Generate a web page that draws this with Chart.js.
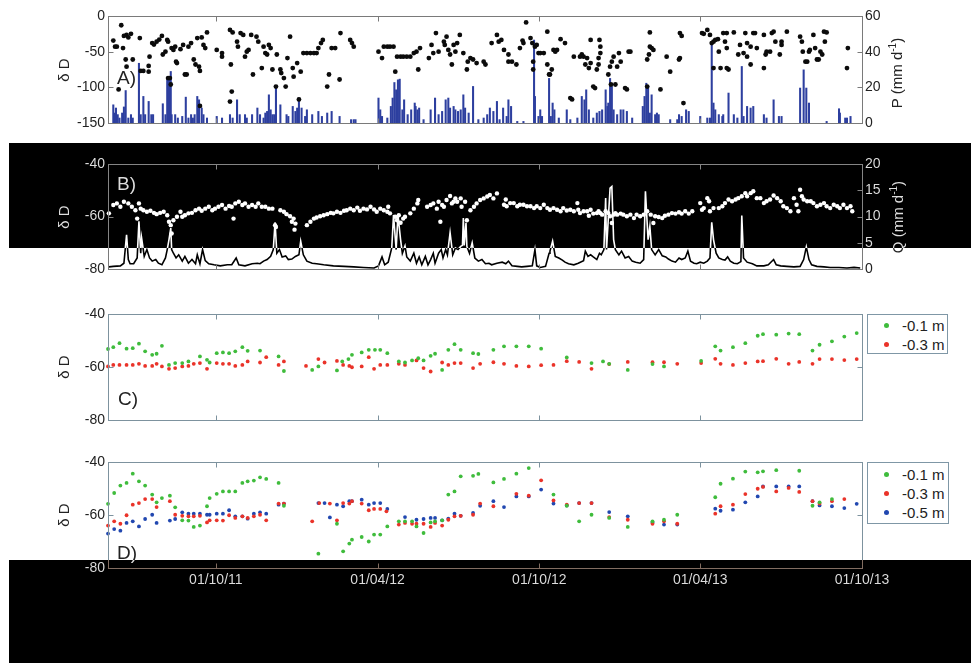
<!DOCTYPE html>
<html><head><meta charset="utf-8">
<script src="https://cdn.jsdelivr.net/npm/chart.js@4.4.1/dist/chart.umd.min.js"></script>
<style>
html,body{margin:0;padding:0;background:#fff;}
#wrap{position:relative;width:971px;height:663px;background:#fff;isolation:isolate;overflow:hidden;font-family:"Liberation Sans",Arial,Helvetica,sans-serif;color:#222;}
canvas{position:absolute;left:0;}
.yt{position:absolute;white-space:nowrap;transform:translate(-50%,-50%) rotate(-90deg);font-size:15px;line-height:15px;}
.yt sup{font-size:10px;line-height:0;}
.pl{position:absolute;font-size:19px;line-height:19px;}
.leg{position:absolute;border:1px solid #7f97a6;background:#fff;}
.leg .dot{position:absolute;width:5px;height:5px;border-radius:50%;}
.leg .lt{position:absolute;font-size:15px;line-height:19px;white-space:nowrap;}
.inv{position:absolute;background:#fff;mix-blend-mode:difference;pointer-events:none;}
</style></head>
<body>
<div id="wrap">
<canvas id="cA" width="971" height="140" style="top:0px"></canvas>
<canvas id="cB" width="971" height="140" style="top:145px"></canvas>
<canvas id="cC" width="971" height="140" style="top:295px"></canvas>
<canvas id="cD" width="971" height="218" style="top:445px"></canvas>

<div class="yt" style="left:63px;top:70px">δ D</div>
<div class="yt" style="left:896px;top:73px">P (mm d<sup>-1</sup>)</div>
<div class="yt" style="left:63px;top:217px">δ D</div>
<div class="yt" style="left:897px;top:217px">Q (mm d<sup>-1</sup>)</div>
<div class="yt" style="left:63px;top:367px">δ D</div>
<div class="yt" style="left:63px;top:515px">δ D</div>

<div class="pl" style="left:117px;top:68px">A)</div>
<div class="pl" style="left:117px;top:174px">B)</div>
<div class="pl" style="left:118px;top:389px">C)</div>
<div class="pl" style="left:117px;top:543px">D)</div>

<div class="leg" style="left:867px;top:314px;width:79px;height:38px">
  <span class="dot" style="left:16px;top:8px;background:#3fbc3c"></span><span class="lt" style="left:34px;top:1px">-0.1 m</span>
  <span class="dot" style="left:16px;top:27px;background:#ea3329"></span><span class="lt" style="left:34px;top:20px">-0.3 m</span>
</div>
<div class="leg" style="left:867px;top:462px;width:80px;height:60px">
  <span class="dot" style="left:16px;top:9px;background:#3fbc3c"></span><span class="lt" style="left:34px;top:2px">-0.1 m</span>
  <span class="dot" style="left:16px;top:28px;background:#ea3329"></span><span class="lt" style="left:34px;top:21px">-0.3 m</span>
  <span class="dot" style="left:16px;top:47px;background:#2147b0"></span><span class="lt" style="left:34px;top:40px">-0.5 m</span>
</div>

<div class="inv" style="left:9px;top:143px;width:962px;height:105px"></div>
<div class="inv" style="left:9px;top:560px;width:962px;height:103px"></div>
</div>
<script>
// x = days since 01/06/11
const tickDays = [122, 305, 488, 670, 853];
const tickLabels = ['01/10/11', '01/04/12', '01/10/12', '01/04/13', '01/10/13'];
const isoTicks = [-80, -60, -40];
const aIsoTicks = [-150, -100, -50, 0];
const pTicks = [0, 20, 40, 60];
const qTicks = [0, 5, 10, 15, 20];

// Panel A: rain isotopes [day, dD]
const rainIso = [[6,-34.5],[8,-43],[10,-43],[15,-13],[12,-103],[17,-45],[18,-28],[21,-26.5],[23,-30],[26,-25],[20,-61],[21,-71],[28,-61],[36,-31],[37,-77],[40,-77],[46,-70],[47,-57],[46,-78],[50,-38],[52,-40],[55,-36],[58,-33],[61,-28],[62,-54],[65,-50],[67,-33.5],[68,-36],[68,-87],[70,-87],[71,-96],[72,-45],[74,-47.5],[76,-43],[77,-64],[78,-66],[82,-46.5],[85,-40.5],[87,-82],[89,-82],[91,-43],[94,-38],[97,-61],[99,-68],[101,-31],[103,-71],[104,-77],[106,-30],[108,-40.5],[110,-45],[112,-23],[104,-126],[123,-47.5],[129,-52],[129,-57],[138,-19.5],[141,-23],[139,-68],[140,-106],[138,-120],[146,-36],[147,-43],[150,-24],[153,-26.5],[155,-57],[157,-50],[159,-47.5],[162,-26.5],[164,-82],[168,-29],[170,-36],[174,-73],[176,-43],[178,-52],[180,-54],[182,-40.5],[184,-45],[186,-75],[190,-99],[191,-54],[195,-75],[196,-80],[199,-87],[201,-99],[203,-59],[206,-29],[209,-73],[210,-85],[214,-66],[216,-117],[218,-78],[221,-52],[225,-52],[229,-52],[233,-52],[236,-52],[238,-45],[241,-38],[243,-33.5],[250,-82],[248,-99],[253,-45],[257,-45],[262,-89],[263,-24],[274,-33.5],[276,-38],[278,-43],
[306,-50],[310,-59],[312,-43],[316,-43],[319,-43],[323,-43],[325,-78],[327,-57],[331,-57],[334,-57],[338,-57],[342,-57],[346,-52],[349,-50],[351,-75],[353,-45],[363,-59],[366,-40.5],[368,-52],[371,-24],[374,-50],[380,-36],[381,-40.5],[383,-29],[385,-47.5],[387,-54],[389,-68],[391,-40.5],[393,-50],[395,-38],[398,-26.5],[402,-52],[406,-75],[407,-64],[410,-59],[413,-61],[417,-66],
[425,-64],[427,-68],[434,-38],[440,-26.5],[442,-36],[445,-33.5],[448,-47.5],[453,-54],[453,-64],[457,-64],[462,-68],[466,-45],[469,-34.5],[470,-38],[473,-9],[478,-31],[480,-38],[481,-64],[481,-75],[483,-43],[485,-40.5],[487,-52],[489,-52],[493,-52],[497,-22],[497,-68],[499,-82],[500,-82],[502,-75],[504,-47.5],[506,-50],[508,-47.5],[512,-32.5],[517,-38],[523,-115],[525,-117],[527,-57],[534,-57],[536,-54],[538,-57],[540,-68],[542,-59],[544,-73],[546,-66],[549,-99],[551,-101],[546,-33.5],[556,-33.5],[555,-59],[555,-68],[553,-75],[557,-43],[557,-52],[566,-82],[568,-71],[569,-96],[570,-64],[572,-57],[574,-96],[576,-71],[578,-52],[580,-64],[585,-101],[587,-103],[589,-50],[591,-50],[610,-61],[612,-54],[613,-43],[613,-23],[615,-45],[617,-47.5],[610,-99],[625,-103],[632,-57],[636,-78],[646,-61],[647,-59],[647,-24],[649,-28],[651,-122],[672,-24],[674,-25],[678,-19.5],[681,-26.5],[683,-38],[685,-36],[687,-33.5],[690,-32.5],[685,-73],[693,-73],[691,-50],[696,-24],[700,-24],[700,-73],[702,-75],[698,-36],[700,-45],[708,-23],[713,-54],[715,-40.5],[719,-52],[721,-24],[723,-38],[727,-68],[727,-43],[730,-24],[732,-24],[723,-57],[734,-45],[742,-73],[742,-26.5],[744,-54],[745,-50],[749,-50],[751,-24],[753,-22],[755,-36],[760,-54],[762,-40.5],[762,-36],[768,-22],[783,-29],[785,-36],[786,-50],[789,-64],[791,-64],[793,-50],[794,-47.5],[798,-26.5],[800,-45],[802,-61],[804,-61],[806,-50],[808,-54],[810,-22],[811,-36],[813,-23],[836,-73],[837,-45]];

// Panel A: precipitation [day, mm/d]
const precip = [[6,10.2],[7,5.6],[9,8.4],[11,4.7],[13,2.8],[16,5.6],[18,9],[20,18.2],[23,2.8],[26,4.7],[28,2.8],[35,33.5],[37,4.7],[40,14.9],[42,4.7],[46,12.1],[49,4.7],[51,4.7],[62,10.8],[65,4.7],[67,25],[69,25],[71,28.9],[72,4.7],[76,4.7],[79,2.8],[84,3.7],[88,14.5],[91,2.8],[94,4.7],[96,2.8],[98,4.7],[101,14.9],[103,13],[106,8.4],[108,4.7],[112,2.8],[123,3.7],[129,2.8],[138,4.7],[141,2.8],[146,13],[149,4.7],[155,4.7],[157,2.8],[163,4.7],[169,8.4],[172,4.7],[176,2.8],[178,5.6],[180,6.5],[182,15.8],[184,7.4],[186,4.7],[188,4.7],[190,20],[195,10.2],[202,4.7],[204,3.7],[209,9.3],[212,6.5],[214,8.4],[216,14],[219,8.4],[223,3.7],[225,7.4],[231,4.7],[238,6.5],[242,3.7],[248,5.6],[253,6.5],[262,3.7],[275,1.9],[278,1.9],[280,1.9],
[306,14],[308,7.4],[310,3.7],[316,2.8],[320,9.3],[322,14],[324,22.7],[326,18.6],[328,24.2],[330,24.6],[333,7.4],[335,13],[339,4.7],[343,7.4],[347,11.2],[348,9.3],[350,7.4],[352,8.4],[357,1.9],[365,7.4],[370,14],[374,4.7],[378,6.5],[382,13],[385,14],[387,8.4],[391,9.3],[393,7.4],[396,6.5],[399,7.4],[402,15.8],[404,8.4],[408,5.6],[413,20.5],[419,1.9],[425,2.8],[429,4.7],[432,8.4],[436,6.5],
[440,12.1],[443,1.9],[447,8.4],[451,3.7],[453,13],[456,9.3],[463,0.9],[470,0.9],[482,46.5],[483,14.9],[487,3.7],[489,7.4],[491,3.7],[499,25],[501,3.7],[503,11.2],[505,7.4],[510,2.8],[519,7.4],[523,1.9],[531,2.8],[536,14.9],[539,13],[541,18.6],[544,7.4],[549,2.8],[553,5.6],[556,6.5],[559,7.4],[563,18.6],[565,9.3],[566,11.2],[568,25],[570,20.5],[572,7.4],[576,4.7],[580,7.4],[583,7.4],[587,6.5],[593,2.8],[605,9.3],[607,14.9],[609,22.3],[611,20.5],[613,5.6],[615,15.8],[619,4.7],[621,5.6],[623,4.7],[636,1.9],[644,1.9],[646,4.7],[649,3.7],[654,7.4],[657,6.5],[670,3.7],[678,2.8],[681,2.8],[683,45],[685,11.2],[687,7.4],[691,4.7],[695,3.7],[696,4.7],[702,16.8],[708,4.7],[712,2.8],[717,31.7],[719,3.7],[723,9.3],[727,8.4],[730,9.3],[742,4.7],[745,2.8],[753,13],[759,3.7],[762,3.7],[783,19.6],[787,29.8],[790,19.6],[793,11.2],[813,0.9],[827,8],[828,5.6],[834,2.8],[836,2.8],[840,3.7]];

// Panel B: stream isotopes [day, dD]
const streamIso = [[1,-58.8],[6,-55.6],[10,-55],[14,-56.3],[18,-54.4],[23,-55],[27,-56.3],[31,-57.6],[33,-60.8],[35,-55],[37,-57],[40,-57.6],[44,-58.2],[48,-57.8],[52,-58.6],[55,-59.1],[59,-58.6],[63,-58.2],[67,-59.5],[69,-62],[71,-63.3],[72,-66.5],[74,-61.4],[78,-60.1],[82,-58.2],[84,-60.1],[87,-59.5],[91,-58.8],[95,-58.6],[99,-57.6],[103,-57],[106,-57.8],[110,-57],[114,-56.3],[118,-57.6],[121,-57],[125,-56.3],[129,-55.6],[133,-57],[137,-56],[140,-56.3],[142,-60.8],[144,-55],[148,-54.4],[152,-55.6],[155,-55],[159,-56.3],[163,-55.6],[167,-56.3],[170,-55],[174,-56.3],[178,-56.3],[182,-57],[186,-57],[189,-63.3],[190,-64],[195,-57.6],[199,-58.2],[202,-59.1],[206,-59.9],[208,-62],[210,-60.8],[212,-62.7],[211,-65],
[225,-63.3],[229,-62],[233,-60.8],[236,-60.4],[240,-59.9],[244,-59.5],[248,-59.1],[252,-58.6],[255,-58.8],[259,-58.2],[263,-58.6],[267,-57.8],[270,-57.6],[274,-57],[278,-57.6],[282,-56.6],[285,-57.8],[289,-57],[293,-57.3],[297,-56.3],[301,-57.3],[304,-58.2],[308,-57],[312,-57.6],[316,-58.2],[317,-56.3],[319,-58.8],[325,-60.1],[327,-61.4],[329,-59.5],[331,-62.4],[334,-60.8],[336,-60.1],[342,-58.8],[346,-57],[350,-55],[351,-53.7],[361,-56.3],[365,-55.6],[368,-55],[372,-57],[374,-54.4],[376,-62],[378,-55.6],[380,-56.3],[383,-53.7],[387,-52.2],[389,-55],[391,-54.4],[393,-53.1],[395,-54.4],[399,-53.1],[400,-56.3],[404,-54.4],[406,-61.4],[410,-57.6],[414,-56.3],[417,-55],[421,-53.7],[425,-53.1],[429,-52.4],[432,-51.8],[436,-53.1],[440,-51.2],
[448,-55.5],[450,-53.5],[451,-56.1],[455,-54.9],[459,-54.9],[463,-56.1],[466,-55.5],[470,-55.5],[474,-56.1],[478,-56.1],[482,-56.8],[485,-56.1],[489,-56.8],[493,-55.5],[497,-56.8],[500,-57.4],[504,-56.8],[508,-57.4],[512,-58],[515,-56.8],[519,-57.7],[523,-57.4],[527,-58],[531,-54.9],[532,-57.4],[534,-58.7],[538,-58],[542,-58],[544,-59.7],[546,-57.4],[549,-58.9],[553,-58.7],[555,-58],[557,-58.7],[559,-59.3],[563,-58],[566,-58.7],[568,-59.9],[570,-62.5],[572,-59.3],[574,-58.7],[576,-59.3],[580,-58.9],[583,-59.3],[587,-59.9],[591,-59.3],[595,-60.6],[598,-59.3],[602,-59.9],[606,-59.3],[610,-58],[614,-59.3],[617,-62.5],[619,-59.9],[623,-60.2],[627,-60.6],[630,-59.7],[634,-59.3],[638,-58.7],[642,-58.9],[646,-58.4],[649,-58.9],[653,-58],[657,-58.9],[661,-58],
[670,-54.9],[672,-57.4],[674,-56.8],[678,-53],[680,-54.2],[681,-58],[685,-56.8],[691,-56.8],[695,-56.1],[698,-54.9],[702,-53.5],[706,-54.2],[710,-53.5],[713,-53],[717,-52.3],[721,-51.1],[723,-52.3],[727,-51.1],[730,-50.4],[734,-53],[738,-53],[742,-54.9],[745,-54.2],[749,-53.5],[753,-52],[757,-53],[761,-54.2],[764,-56.1],[768,-56.8],[772,-58],[776,-53],[779,-55.5],[781,-58],[783,-49.8],[785,-52.3],[787,-53.5],[791,-54.2],[795,-54.2],[798,-54.9],[802,-56.1],[806,-55.5],[810,-54.9],[813,-56.1],[817,-56.8],[821,-55.5],[825,-56.1],[828,-56.8],[832,-55.5],[836,-56.8],[840,-56.1],[842,-58]];

// Panel B: discharge [day, mm/d]
const discharge = [[1,0.4],[6,0.5],[14,0.6],[18,1.1],[21,6.5],[23,1.8],[25,1.0],[29,1.0],[33,2.1],[35,9.1],[37,3.0],[38,5.9],[41,2.4],[44,3.7],[47,2.1],[50,1.5],[54,1.8],[57,1.1],[61,0.8],[65,2.1],[67,3.7],[69,5.6],[71,7.8],[72,3.7],[74,3.0],[77,2.1],[80,2.7],[84,1.5],[87,2.4],[91,1.1],[95,1.8],[99,1.0],[101,2.7],[104,1.0],[107,3.7],[110,1.6],[114,1.0],[120,0.8],[127,0.6],[135,0.8],[140,0.8],[145,2.1],[148,0.8],[155,0.6],[163,1.0],[169,1.1],[172,1.0],[176,1.5],[180,1.8],[184,2.4],[187,3.7],[189,8.9],[191,3.0],[194,3.7],[197,2.3],[201,2.5],[204,1.8],[208,1.9],[212,2.4],[216,2.7],[218,5.3],[221,2.7],[225,1.5],[231,1.1],[236,1.0],[244,0.8],[255,0.6],[267,0.5],[278,0.4],[289,0.3],[301,0.2],[306,0.6],[310,2.3],[313,0.8],[317,1.3],[321,4.0],[323,10.3],[326,3.7],[328,10.3],[331,5.6],[333,3.0],[336,4.4],[338,2.3],[342,1.5],[346,3.0],[349,1.1],[352,2.3],[355,0.8],[359,2.4],[362,0.8],[365,1.8],[368,3.0],[370,1.1],[374,3.0],[377,3.7],[379,2.1],[382,3.7],[384,2.7],[387,6.9],[390,2.7],[393,4.0],[396,3.7],[399,4.3],[401,4.5],[402,9.7],[403,4.5],[405,8.8],[406,4.3],[409,3.0],[412,5.0],[415,2.1],[419,1.5],[423,1.8],[427,1.0],[431,1.1],[434,0.8],[440,1.1],[446,1.3],[450,1.0],[453,1.5],[457,0.6],[463,0.5],[468,0.4],[474,0.5],[480,0.6],[483,3.7],[485,0.6],[489,0.3],[495,0.5],[499,3.0],[500,3.4],[503,5.3],[506,2.4],[510,2.1],[514,1.7],[517,1.3],[521,1.0],[527,0.8],[532,1.1],[538,1.6],[540,3.4],[543,2.4],[546,2.7],[549,2.3],[553,1.8],[556,3.0],[558,2.7],[561,3.7],[563,13.5],[564,3.7],[568,15.4],[570,15.7],[572,5.6],[574,3.7],[578,2.7],[581,3.4],[585,2.1],[589,2.4],[593,1.5],[597,1.3],[602,1.1],[606,1.8],[608,14.8],[611,5.6],[613,8.1],[615,3.7],[619,2.7],[623,3.7],[627,2.5],[631,2.3],[634,1.9],[638,1.5],[642,1.3],[646,2.1],[649,1.8],[653,2.1],[656,3.4],[659,1.5],[663,1.1],[666,1.0],[670,1.3],[674,1.1],[678,1.5],[681,2.1],[683,8.9],[685,5.6],[688,3.0],[691,2.1],[695,1.8],[698,1.7],[701,2.3],[704,1.5],[708,1.1],[712,1.0],[716,1.4],[717,10.2],[719,2.1],[723,1.3],[729,1.0],[734,0.6],[742,0.6],[747,0.8],[753,1.8],[756,0.8],[761,0.6],[768,0.5],[776,0.4],[783,0.5],[787,1.8],[790,4.2],[793,1.8],[796,0.8],[802,0.5],[810,0.4],[817,0.3],[827,0.3],[836,0.2],[844,0.3],[851,0.2]];

// Panel C: soil water, plot 1 [day, dD]
const c01 = [[0,-53.2],[6,-52.5],[13,-51],[21,-53.1],[28,-52.9],[35,-51.2],[42,-54.1],[50,-55.4],[55,-55],[61,-52],[69,-59.2],[76,-58.5],[84,-58.5],[91,-57.9],[104,-56],[112,-57.3],[115,-58.3],[123,-54.8],[130,-54.5],[137,-54.8],[144,-54.1],[152,-52.5],[158,-53.9],[172,-53.8],[193,-56],[199,-61.5],[231,-61.1],[238,-59.8],[259,-61.3],[265,-57.9],[272,-57],[276,-55.4],[287,-54.5],[295,-53.5],[302,-53.5],[308,-53.5],[316,-54.8],[329,-57.9],[336,-58.3],[344,-57.5],[351,-56.7],[357,-57.5],[365,-55.8],[370,-55],[378,-61.1],[385,-53.5],[392,-51.4],[399,-53.5],[413,-54.8],[419,-55.1],[436,-53.5],[448,-52.2],[462,-52.2],[476,-52.2],[490,-53.1],[519,-56.4],[547,-58.5],[560,-57.9],[567,-58.8],[588,-61.1],[616,-58.9],[629,-59.8],[671,-57.7],[687,-52.2],[693,-53.8],[707,-52.5],[721,-51],[735,-48.2],[741,-47.6],[756,-47.8],[770,-47.4],[782,-47.6],[797,-53.8],[805,-51.6],[819,-50.3],[833,-48.5],[847,-47.2]];
const c03 = [[0,-59.8],[6,-59.2],[13,-59.2],[21,-59.2],[28,-59.2],[35,-58.8],[42,-59.6],[50,-59.6],[55,-58.8],[61,-59.8],[69,-60.7],[76,-60.4],[84,-59.8],[91,-59.6],[97,-58.8],[104,-58.5],[112,-60.7],[123,-58.5],[130,-58.8],[137,-58.8],[144,-59.6],[152,-59.2],[158,-57.9],[172,-58.3],[179,-56.3],[193,-59.2],[199,-57.9],[224,-59.6],[238,-57],[245,-58.3],[259,-57.7],[266,-59.2],[273,-59.6],[276,-60.1],[287,-59.8],[295,-56.3],[301,-60.7],[308,-59.2],[316,-59.2],[329,-58.8],[336,-59.2],[349,-57.5],[357,-60.4],[365,-61.7],[378,-58.3],[385,-59.2],[392,-58.5],[399,-58.5],[413,-60.4],[421,-58.8],[436,-58.2],[448,-58.8],[462,-59.6],[476,-59.8],[490,-59.3],[504,-59.2],[519,-57.8],[533,-58.1],[547,-60.7],[567,-58.9],[588,-58.1],[616,-58.2],[629,-58.2],[644,-58.8],[671,-58.5],[687,-56.9],[693,-58.8],[707,-59.2],[721,-58.5],[735,-57.9],[741,-57.8],[756,-56.9],[770,-58.8],[782,-58.1],[797,-58.8],[805,-57],[819,-57],[833,-57.4],[847,-57]];

// Panel D: soil water, plot 2 [day, dD]
const d01 = [[0,-55.8],[7,-51.7],[14,-48.9],[21,-47.9],[28,-44.4],[35,-47.3],[42,-48.9],[50,-52.3],[55,-55.2],[61,-53.6],[70,-52.7],[76,-57.1],[84,-62],[91,-62.1],[97,-64.5],[104,-64],[112,-56.7],[115,-53.6],[123,-52],[130,-51.1],[137,-51.1],[144,-51.1],[152,-47.9],[158,-47.3],[165,-47],[172,-45.8],[179,-46.4],[193,-47.9],[199,-56.5],[238,-74.6],[259,-63.3],[266,-73.7],[273,-70.8],[276,-69.3],[287,-68.3],[295,-70],[301,-67.4],[308,-67.4],[316,-64.3],[329,-62.4],[336,-62.4],[344,-62.4],[349,-64.3],[357,-66.8],[365,-62.8],[370,-62.4],[378,-62],[385,-52.3],[392,-51.1],[399,-45.4],[413,-45.2],[419,-44.5],[436,-47.7],[448,-46.4],[462,-44.4],[476,-42.3],[504,-52.3],[519,-56.5],[533,-62.4],[547,-59.9],[567,-61.1],[588,-64.5],[616,-62.4],[629,-61.8],[644,-59.9],[687,-53.3],[693,-48.2],[707,-46.3],[721,-43.6],[735,-43.9],[741,-43.5],[756,-43.1],[782,-43.3],[797,-56.5],[805,-55.2],[819,-54]];
const d03 = [[0,-64],[7,-62.4],[14,-63.3],[21,-60.1],[28,-56.1],[35,-55.5],[42,-54],[50,-54],[55,-57],[70,-54.8],[76,-59.9],[84,-60.3],[91,-60.5],[97,-60.5],[104,-60.3],[112,-62.8],[115,-62],[123,-62],[130,-62.1],[137,-60.1],[144,-61.1],[152,-60.5],[158,-61.1],[165,-60.5],[172,-59.9],[179,-62],[193,-55.7],[199,-55.7],[231,-62.4],[239,-55.5],[251,-55.7],[259,-62],[266,-55.5],[273,-55.7],[276,-54.8],[287,-55.7],[295,-58.2],[301,-57.7],[308,-57.7],[315,-58.6],[329,-63.6],[336,-63],[344,-63.3],[349,-63.3],[357,-63.3],[365,-64.5],[370,-63],[378,-64],[385,-61.8],[392,-60.5],[399,-60.3],[413,-59.9],[421,-55.7],[436,-56.7],[462,-52],[476,-52.7],[490,-46.9],[504,-54.5],[519,-56.1],[533,-55.5],[547,-55.5],[567,-60.8],[588,-61.8],[616,-63.3],[629,-62.4],[644,-63.3],[687,-59.5],[693,-56.7],[707,-56.1],[721,-52.1],[735,-50.1],[741,-49.4],[756,-51.1],[770,-49.8],[782,-51.3],[797,-54.8],[805,-55.7],[819,-54.8],[833,-54]];
const d05 = [[0,-67],[7,-65.3],[14,-65.9],[21,-63],[28,-62.4],[35,-64.3],[42,-61.5],[50,-59.9],[55,-63],[70,-62.1],[76,-61.5],[84,-59],[91,-59.5],[97,-59.5],[104,-59.5],[112,-59.9],[115,-59.9],[123,-59.5],[130,-59.5],[137,-58.2],[144,-60.5],[152,-60.5],[158,-61.4],[165,-59.5],[172,-59],[179,-59.5],[193,-56.1],[199,-55.7],[238,-55.5],[245,-55.5],[251,-60.9],[259,-56.1],[266,-56.7],[273,-54.8],[276,-54.8],[287,-54.2],[295,-56.1],[301,-55.5],[308,-55.5],[316,-57.7],[336,-60.8],[349,-61.8],[357,-61.5],[365,-61.1],[370,-61.1],[378,-62],[385,-61.4],[392,-59.5],[399,-60.3],[413,-59.2],[421,-56.5],[436,-54.8],[448,-57],[462,-53],[476,-53],[490,-50.4],[504,-55.7],[519,-56.4],[533,-55.5],[547,-55.5],[567,-58.9],[588,-60.5],[616,-62.8],[629,-63.6],[644,-63.6],[687,-57.6],[693,-58.4],[707,-58],[721,-55.2],[735,-53],[741,-49.2],[756,-49.2],[770,-49.2],[782,-49.2],[797,-54.8],[805,-56.4],[819,-56.7],[833,-57.4],[847,-55.8]];

const GREEN = '#3fbc3c', RED = '#ea3329', BLUE = '#2147b0';

Chart.defaults.font.family = '"Liberation Sans", Arial, Helvetica, sans-serif';
Chart.defaults.font.size = 14;
Chart.defaults.color = '#222';

const pts = arr => arr.map(([x, y]) => ({x, y}));

const framePlugin = {
  id: 'frame',
  afterDatasetsDraw(chart, args, o) {
    const {ctx, chartArea: a, scales} = chart;
    const L = 5;
    ctx.save();
    ctx.strokeStyle = o.color;
    ctx.lineWidth = 1;
    const l = Math.round(a.left) + 0.5, r = Math.round(a.right) + 0.5;
    const t = Math.round(a.top) + 0.5, b = Math.round(a.bottom) + 0.5;
    ctx.strokeRect(l, t, r - l, b - t);
    ctx.beginPath();
    tickDays.forEach(d => {
      const px = Math.round(scales.x.getPixelForValue(d)) + 0.5;
      ctx.moveTo(px, t); ctx.lineTo(px, t + L);
      ctx.moveTo(px, b); ctx.lineTo(px, b - L);
    });
    scales.y.ticks.forEach(tk => {
      const py = Math.round(scales.y.getPixelForValue(tk.value)) + 0.5;
      ctx.moveTo(l, py); ctx.lineTo(l + L, py);
      if (!scales.y2) { ctx.moveTo(r, py); ctx.lineTo(r - L, py); }
    });
    if (scales.y2) scales.y2.ticks.forEach(tk => {
      const py = Math.round(scales.y2.getPixelForValue(tk.value)) + 0.5;
      ctx.moveTo(r, py); ctx.lineTo(r - L, py);
    });
    ctx.stroke();
    ctx.restore();
  }
};

function xScale(show, h) {
  return {
    type: 'linear', min: 0, max: 853, offset: false, display: show,
    afterBuildTicks: s => { s.ticks = tickDays.map(v => ({value: v})); },
    grid: {display: false, drawTicks: false}, border: {display: false},
    ticks: {padding: 4, maxRotation: 0, autoSkip: false, color: '#222',
            callback: v => tickLabels[tickDays.indexOf(v)]},
    afterFit: s => { if (show) s.height = h; }
  };
}
function yScale(pos, min, max, ticks, width) {
  return {
    type: 'linear', position: pos, min, max,
    afterBuildTicks: s => { s.ticks = ticks.map(v => ({value: v})); },
    grid: {display: false, drawTicks: false}, border: {display: false},
    ticks: {padding: 3, color: '#222', callback: v => String(v)},
    afterFit: s => { s.width = width; }
  };
}
function mk(id, datasets, scales, pad, frameColor) {
  return new Chart(document.getElementById(id), {
    type: 'scatter',
    data: {datasets},
    options: {
      responsive: false, animation: false, devicePixelRatio: 1, events: [],
      layout: {padding: pad},
      scales,
      plugins: {legend: {display: false}, tooltip: {enabled: false}, frame: {color: frameColor}}
    },
    plugins: [framePlugin]
  });
}
const dot = (data, color, r, axis) => ({data: pts(data), yAxisID: axis || 'y', pointRadius: r,
  pointBackgroundColor: color, pointBorderWidth: 0, pointHoverRadius: r, clip: false});

mk('cA', [
  dot(rainIso, '#0b0b0b', 2.4),
  {type: 'bar', data: pts(precip), yAxisID: 'y2', backgroundColor: '#2d3f9f', barThickness: 1.4, borderWidth: 0}
], {x: xScale(false), y: yScale('left', -150, 0, aIsoTicks, 108), y2: yScale('right', 0, 60, pTicks, 109)},
   {top: 16, bottom: 17, left: 0, right: 0}, '#7a7a7a');

mk('cB', [
  dot(streamIso, '#000', 2.2),
  {data: pts(discharge), yAxisID: 'y2', showLine: true, borderColor: '#000', borderWidth: 1.6, pointRadius: 0, fill: false}
], {x: xScale(false), y: yScale('left', -80, -40, isoTicks, 108), y2: yScale('right', 0, 20, qTicks, 109)},
   {top: 19, bottom: 16, left: 0, right: 0}, '#7a7a7a');

mk('cC', [
  dot(c01, GREEN, 1.9),
  dot(c03, RED, 1.9)
], {x: xScale(false), y: yScale('left', -80, -40, isoTicks, 108)},
   {top: 19, bottom: 15, left: 0, right: 109}, '#7d929e');

mk('cD', [
  dot(d01, GREEN, 1.9),
  dot(d03, RED, 1.9),
  dot(d05, BLUE, 1.9)
], {x: xScale(true, 95), y: yScale('left', -80, -40, isoTicks, 108)},
   {top: 17, bottom: 0, left: 0, right: 109}, '#7d929e');
</script>
</body></html>
